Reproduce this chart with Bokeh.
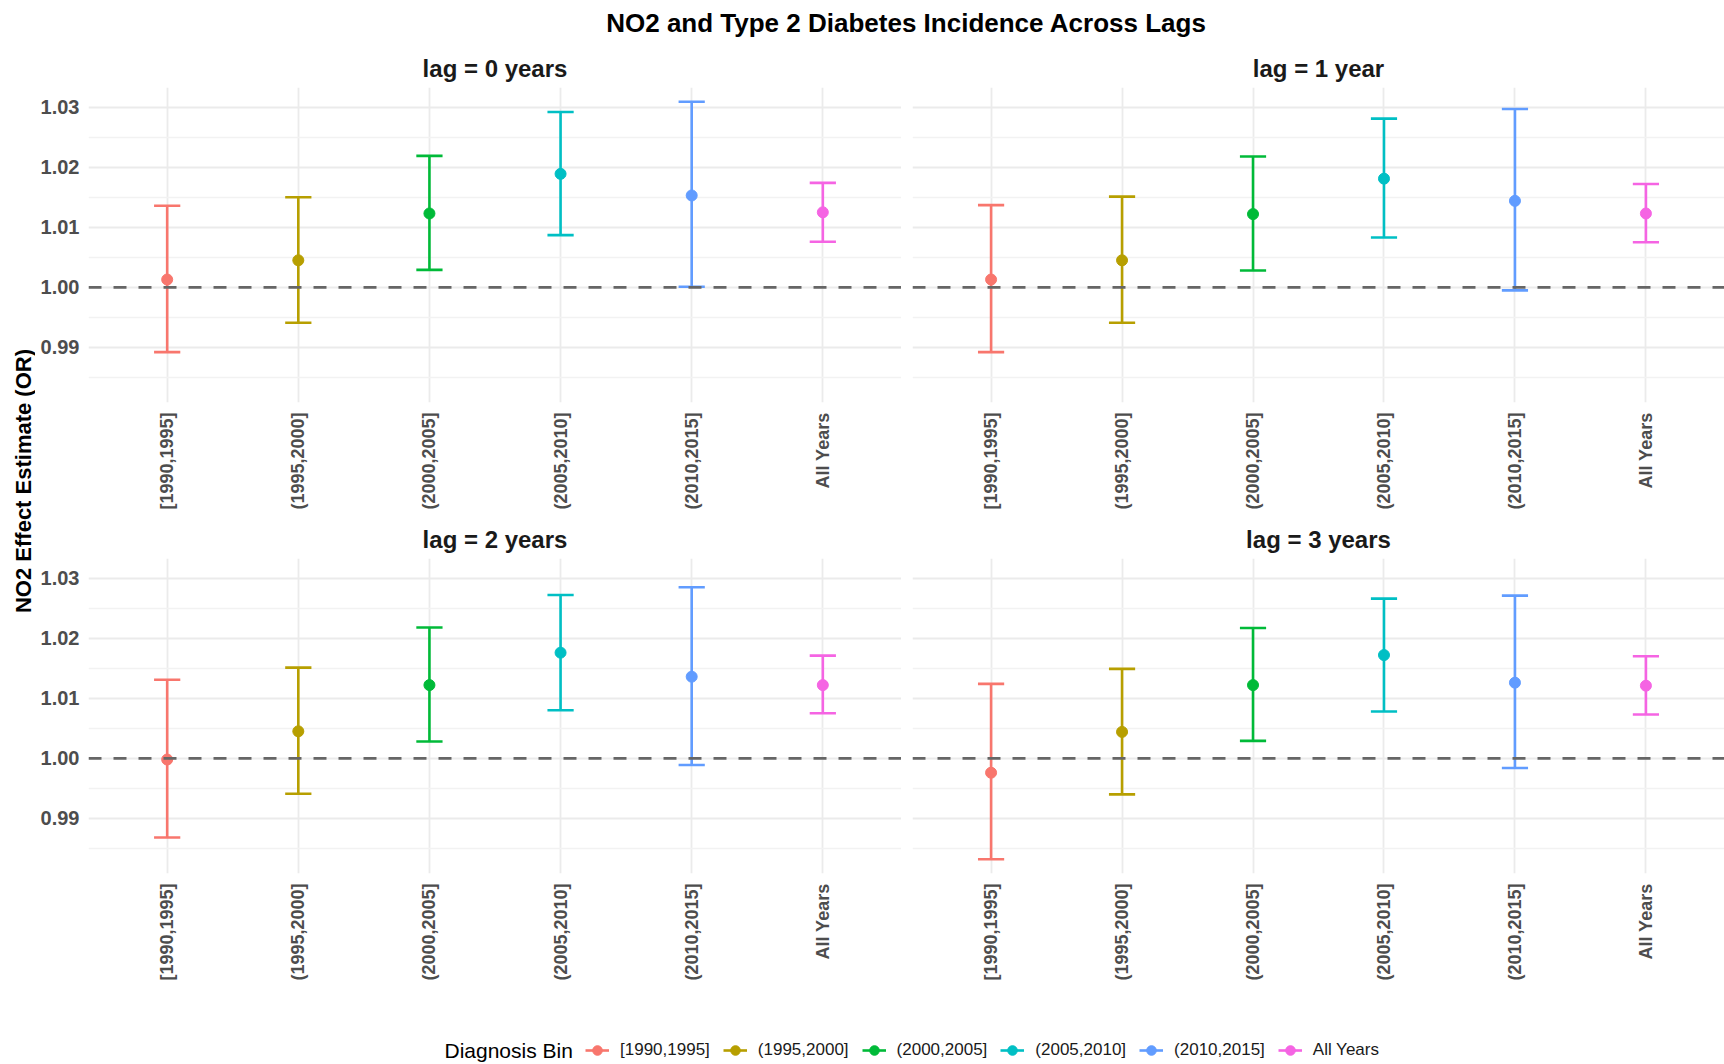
import math
from bokeh.plotting import figure
from bokeh.models import (Range1d, FixedTicker, PrintfTickFormatter, Span, ColumnDataSource,
                          Legend, LegendItem, Label, Grid)
from bokeh.layouts import column, row
from bokeh.embed import file_html
from bokeh.resources import INLINE

# ---------------- data ----------------
categories = ["[1990,1995]", "(1995,2000]", "(2000,2005]", "(2005,2010]", "(2010,2015]", "All Years"]
colors = ["#F8766D", "#B79F00", "#00BA38", "#00BFC4", "#619CFF", "#F564E3"]
lag_titles = ["lag = 0 years", "lag = 1 year", "lag = 2 years", "lag = 3 years"]

lag0_est = [1.0013, 1.0045, 1.0123, 1.0189, 1.0153, 1.0125]
lag0_lo = [0.9892, 0.9941, 1.0029, 1.0087, 1.0001, 1.0076]
lag0_hi = [1.0136, 1.0150, 1.0219, 1.0292, 1.0309, 1.0174]

lag1_est = [1.0013, 1.0045, 1.0122, 1.0181, 1.0144, 1.0123]
lag1_lo = [0.9892, 0.9941, 1.0028, 1.0083, 0.9995, 1.0075]
lag1_hi = [1.0137, 1.0151, 1.0218, 1.0281, 1.0297, 1.0172]

lag2_est = [0.9998, 1.0045, 1.0122, 1.0176, 1.0136, 1.0122]
lag2_lo = [0.9868, 0.9941, 1.0028, 1.0080, 0.9989, 1.0075]
lag2_hi = [1.0131, 1.0151, 1.0218, 1.0272, 1.0285, 1.0171]

lag3_est = [0.9976, 1.0044, 1.0122, 1.0172, 1.0126, 1.0121]
lag3_lo = [0.9832, 0.9940, 1.0029, 1.0078, 0.9984, 1.0073]
lag3_hi = [1.0124, 1.0149, 1.0217, 1.0266, 1.0271, 1.0170]

y_major = [0.99, 1.00, 1.01, 1.02, 1.03]
y_minor = [0.985, 0.995, 1.005, 1.015, 1.025]
reference_value = 1.0

title_text = "NO2 and Type 2 Diabetes Incidence Across Lags"
y_label_text = "NO2 Effect Estimate (OR)"
legend_title_text = "Diagnosis Bin"

# ---------------- style ----------------
FONT = "Liberation Sans"
GRID = "#EBEBEB"
MINOR = "#F2F2F2"
TICK_TXT = "#4D4D4D"

all_lo = lag0_lo + lag1_lo + lag2_lo + lag3_lo
all_hi = lag0_hi + lag1_hi + lag2_hi + lag3_hi
span_y = max(all_hi) - min(all_lo)
Y0 = min(all_lo) - 0.05 * span_y
Y1 = max(all_hi) + 0.05 * span_y

xs = [i + 1 for i in range(len(categories))]
X0, X1 = 1 - 0.6, len(categories) + 0.6
CAP = 0.1

PANEL_H = 470
FRAME_H = 315


def make_panel(title, est, lo, hi, width, left_border, top_border, show_y):
    p = figure(width=width, height=PANEL_H,
               x_range=Range1d(X0, X1), y_range=Range1d(Y0, Y1),
               output_backend="svg", toolbar_location=None,
               min_border_left=left_border, min_border_right=0,
               min_border_top=top_border,
               min_border_bottom=PANEL_H - top_border - FRAME_H,
               y_axis_location="left" if show_y else None,
               title=title)
    p.outline_line_color = None
    p.background_fill_color = "white"
    p.border_fill_color = "white"

    p.title.align = "center"
    p.title.text_font = FONT
    p.title.text_font_size = "24px"
    p.title.text_font_style = "bold"
    p.title.text_color = "#1A1A1A"
    p.title.standoff = 12

    # x axis
    xa = p.xaxis[0]
    xa.ticker = FixedTicker(ticks=xs)
    xa.major_label_overrides = {x: c for x, c in zip(xs, categories)}
    xa.major_label_orientation = math.pi / 2
    xa.major_label_text_font = FONT
    xa.major_label_text_font_size = "18px"
    xa.major_label_text_font_style = "bold"
    xa.major_label_text_color = TICK_TXT
    xa.major_label_standoff = 10
    xa.major_tick_line_color = None
    xa.minor_tick_line_color = None
    xa.major_tick_out = 0
    xa.major_tick_in = 0
    xa.axis_line_color = None
    p.xgrid.grid_line_color = GRID
    p.xgrid.grid_line_width = 1.8

    # replace any default horizontal grid by our own
    p.center = [r for r in p.center if not (isinstance(r, Grid) and r.dimension == 1)]
    g = Grid(dimension=1, ticker=FixedTicker(ticks=y_major, minor_ticks=y_minor),
             grid_line_color=GRID, grid_line_width=1.8,
             minor_grid_line_color=MINOR, minor_grid_line_width=1.3)
    p.add_layout(g)

    if show_y:
        ya = p.yaxis[0]
        ya.ticker = FixedTicker(ticks=y_major, minor_ticks=y_minor)
        ya.formatter = PrintfTickFormatter(format="%.2f")
        ya.major_label_text_font = FONT
        ya.major_label_text_font_size = "20px"
        ya.major_label_text_font_style = "bold"
        ya.major_label_text_color = TICK_TXT
        ya.major_label_standoff = 9
        ya.major_tick_line_color = None
        ya.minor_tick_line_color = None
        ya.major_tick_out = 0
        ya.major_tick_in = 0
        ya.minor_tick_out = 0
        ya.axis_line_color = None

    src = ColumnDataSource(dict(
        x=xs, est=est, lo=lo, hi=hi, color=colors,
        cl=[x - CAP for x in xs], cr=[x + CAP for x in xs],
    ))
    p.segment(x0="x", y0="lo", x1="x", y1="hi", line_color="color", line_width=2.6, source=src)
    p.segment(x0="cl", y0="lo", x1="cr", y1="lo", line_color="color", line_width=2.6, source=src)
    p.segment(x0="cl", y0="hi", x1="cr", y1="hi", line_color="color", line_width=2.6, source=src)
    p.scatter(x="x", y="est", size=11, fill_color="color", line_color="color", source=src)

    p.add_layout(Span(location=reference_value, dimension="width", line_color="#666666",
                      line_width=2.8, line_dash="13 12"))
    return p


YLAB_W = 35
LEFT_W = 901 - YLAB_W
RIGHT_W = 1724 - 901

tl = make_panel(lag_titles[0], lag0_est, lag0_lo, lag0_hi, LEFT_W, 88 - YLAB_W, 42, True)
tr = make_panel(lag_titles[1], lag1_est, lag1_lo, lag1_hi, RIGHT_W, 11, 42, False)
bl = make_panel(lag_titles[2], lag2_est, lag2_lo, lag2_hi, LEFT_W, 88 - YLAB_W, 43, True)
br = make_panel(lag_titles[3], lag3_est, lag3_lo, lag3_hi, RIGHT_W, 11, 43, False)


def blank(width, height):
    f = figure(width=width, height=height, x_range=Range1d(0, width), y_range=Range1d(0, height),
               output_backend="svg", toolbar_location=None, min_border=0,
               x_axis_type=None, y_axis_type=None)
    f.outline_line_color = None
    f.border_fill_color = "white"
    f.background_fill_color = "white"
    return f


TITLE_H = 45
title_fig = blank(1724, TITLE_H)
title_fig.add_layout(Label(x=906, y=TITLE_H - 22, text=title_text, text_align="center",
                           text_baseline="middle", text_font=FONT, text_font_size="26px",
                           text_font_style="bold", text_color="black"))

ylab_fig = blank(YLAB_W, 2 * PANEL_H)
ylab_fig.add_layout(Label(x=22.5, y=2 * PANEL_H - (480.5 - TITLE_H), text=y_label_text,
                          angle=math.pi / 2, text_align="center", text_baseline="middle",
                          text_font=FONT, text_font_size="22px", text_font_style="bold",
                          text_color="black"))

LEG_H = 1064 - TITLE_H - 2 * PANEL_H
leg_fig = blank(1724, LEG_H)
items = []
nan = float("nan")
for c, col in zip(categories, colors):
    dummy = ColumnDataSource(dict(x=[nan, nan], y=[nan, nan]))
    lr = leg_fig.line(x="x", y="y", source=dummy, line_color=col, line_width=2.6)
    sr = leg_fig.scatter(x="x", y="y", source=dummy, size=11, fill_color=col, line_color=col)
    items.append(LegendItem(label=c, renderers=[lr, sr]))
legend = Legend(items=items, orientation="horizontal", location=(585, 0),
                glyph_width=24, glyph_height=28, label_standoff=11, spacing=13,
                label_height=28,
                padding=0, margin=0, border_line_color=None, background_fill_alpha=0,
                label_text_font=FONT, label_text_font_size="17px", label_text_color="#1A1A1A")
leg_fig.add_layout(legend)
leg_fig.add_layout(Label(x=444, y=LEG_H - 65, text=legend_title_text, text_align="left",
                         text_baseline="middle", text_font=FONT, text_font_size="21px",
                         text_color="black"))

layout = column(title_fig,
                row(ylab_fig, column(row(tl, tr), row(bl, br))),
                leg_fig)

open("out.html", "w").write(file_html(layout, INLINE))
